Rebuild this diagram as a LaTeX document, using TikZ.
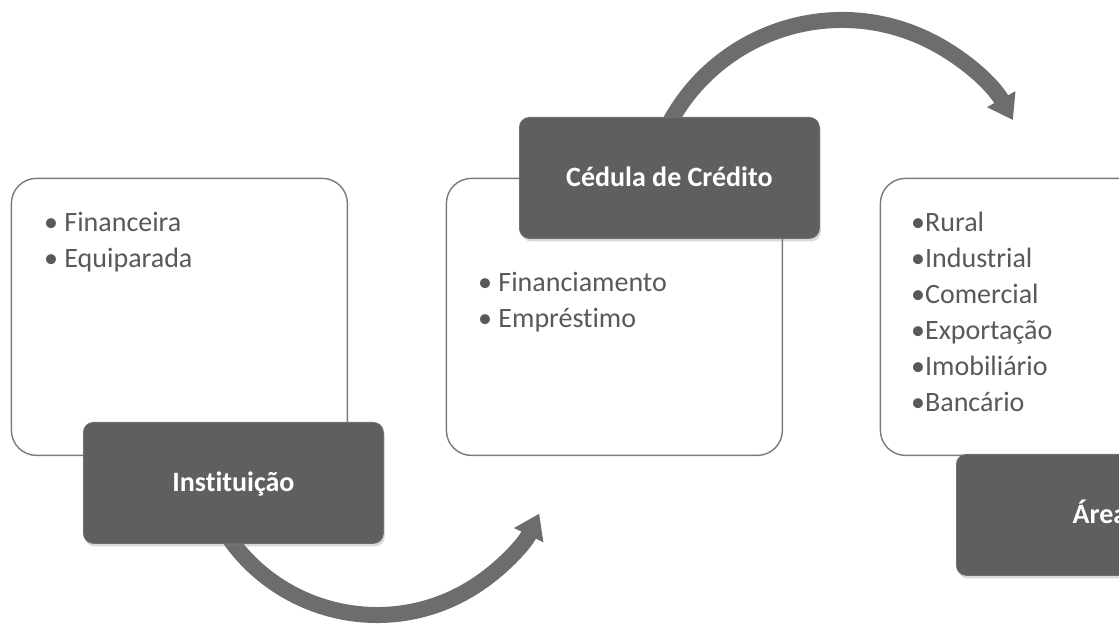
\documentclass[tikz,border=0pt]{standalone}
\usepackage{fontspec}
\setmainfont[Ligatures=NoCommon]{Carlito}
\usetikzlibrary{arrows.meta,shadows}

\definecolor{boxgray}{HTML}{5F5F5F}
\definecolor{rimgray}{HTML}{707070}
\definecolor{arrowgray}{HTML}{6D6D6D}
\definecolor{linegray}{HTML}{7A7A7A}
\definecolor{textgray}{HTML}{595959}

\begin{document}
\begin{tikzpicture}[line join=round,x=1pt,y=1pt,
	listbox/.style={draw=linegray,line width=1.4pt,fill=white,rounded corners=25pt,
		minimum width=336pt,minimum height=277pt,inner sep=0pt,anchor=north west},
	titlebox/.style={draw=rimgray,line width=0.8pt,fill=boxgray,rounded corners=10pt,
		minimum width=300pt,minimum height=121pt,anchor=north west,text=white,
		font=\bfseries\fontsize{28}{34}\selectfont,text height=18pt,text depth=0pt,
		drop shadow={shadow xshift=1.5pt,shadow yshift=-3pt,opacity=0.3}},
	item/.style={anchor=base west,inner sep=0pt,text=textgray,font=\fontsize{28}{34}\selectfont},
	flow/.style={draw=arrowgray,line width=16pt,-{Triangle[length=24pt,width=31pt]}}]
		\useasboundingbox (0,0) rectangle (1119,628);
		\clip (0,0) rectangle (1119,628);
		%cadres des listes
		\node[listbox] (instlist) at (10.7,450.3) {};
		\node[listbox] (cedlist) at (445.7,450.3) {};
		\node[listbox] (arealist) at (879.7,450.3) {};
		%Liste 1
		\node[item] (fin) at (44,396) {• Financeira};
		\node[item] (equ) at (44,360) {• Equiparada};
		%Liste 2
		\node[item] (fnc) at (478,336) {• Financiamento};
		\node[item] (emp) at (478,300) {• Empréstimo};
		%Liste 3
		\foreach \nom [count=\i] in {Rural,Industrial,Comercial,Exportação,Imobiliário,Bancário}
			\node[item] (ar\i) at (911,432-36*\i) {•\nom};
		%fleches
		\coordinate (turn1) at (377,193.5);
		\coordinate (turn2) at (842,412);
		\draw[flow] ([shift={(212:180.5)}]turn1) arc[start angle=212,end angle=334,radius=180.5];
		\draw[flow] ([shift={(155:196)}]turn2) arc[start angle=155,end angle=29.3,radius=196];
		%titres
		\node[titlebox] (inst) at (83,206) {Instituição};
		\node[titlebox] (ced) at (519,511) {Cédula de Crédito};
		\node[titlebox] (area) at (956,174) {\hspace*{-13pt}Área};
\end{tikzpicture}
\end{document}
